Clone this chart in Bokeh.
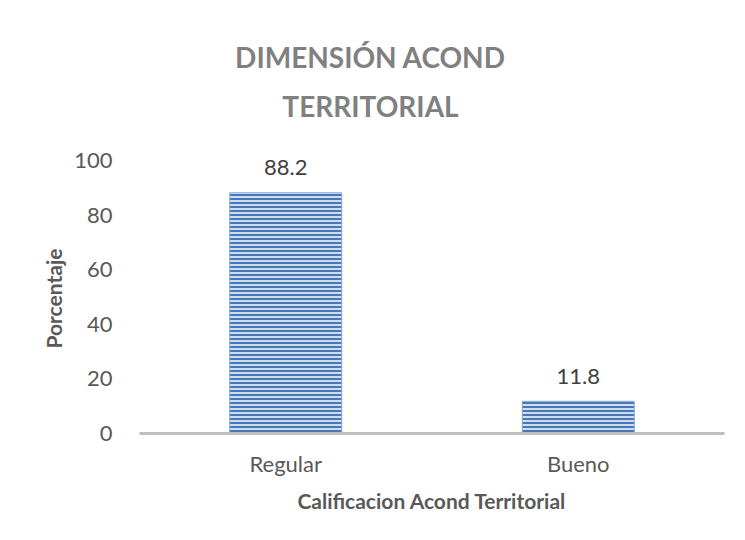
from bokeh.plotting import figure
from bokeh.models import ColumnDataSource, LabelSet, Label, FixedTicker, FactorRange, Range1d, Title
from bokeh.core.properties import value
from bokeh.embed import file_html
from bokeh.resources import INLINE

categories = ["Regular", "Bueno"]
values = [88.2, 11.8]
labels = ["88.2", "11.8"]
y_ticks = [0, 20, 40, 60, 80, 100]
title_lines = ["DIMENSIÓN ACOND", "TERRITORIAL"]
y_title = "Porcentaje"
x_title = "Calificacion Acond Territorial"

FONT = "Lato"
TXT = "#595959"

src = ColumnDataSource(dict(cat=categories, val=values, lab=labels))

# y range extends above 100 to leave room for the title inside the (invisible) frame
p = figure(width=737, height=515, x_range=FactorRange(*categories), y_range=Range1d(0, 151.3),
           output_backend="svg", toolbar_location=None,
           min_border_left=139, min_border_right=13, min_border_top=20, min_border_bottom=10)
p.x_range.range_padding = 0
p.outline_line_color = None
p.grid.grid_line_color = None
p.background_fill_color = "white"
p.border_fill_color = "white"

p.vbar(x="cat", top="val", width=0.383, source=src,
       fill_color="#d0def0", line_color="#86a9d6", line_width=1,
       hatch_pattern="horizontal_line", hatch_color="#4677b8",
       hatch_scale=4, hatch_weight=2)

lbl = LabelSet(x="cat", y="val", text="lab", source=src, y_offset=25,
               text_align="center", text_baseline="middle",
               text_font=value(FONT), text_font_size=value("22px"), text_color="#404040")
p.add_layout(lbl)

# y axis
p.yaxis.ticker = FixedTicker(ticks=y_ticks)
p.yaxis.axis_line_color = None
p.yaxis.major_tick_line_color = None
p.yaxis.minor_tick_line_color = None
p.yaxis.major_label_text_font = FONT
p.yaxis.major_label_text_font_size = "22px"
p.yaxis.major_label_text_color = TXT
p.yaxis.major_label_standoff = 21

# y axis title, centred on the 0-100 part of the axis
p.add_layout(Title(text=y_title, align="left", offset=85, standoff=12,
                   text_font=FONT, text_font_size="21px", text_font_style="bold",
                   text_color=TXT), "left")

# x axis
p.xaxis.axis_line_color = "#bfbfbf"
p.xaxis.axis_line_width = 3
p.xaxis.major_tick_line_color = None
p.xaxis.minor_tick_line_color = None
p.xaxis.major_label_text_font = FONT
p.xaxis.major_label_text_font_size = "22px"
p.xaxis.major_label_text_color = TXT
p.xaxis.major_label_standoff = 10
p.xaxis.axis_label = x_title
p.xaxis.axis_label_text_font = FONT
p.xaxis.axis_label_text_font_size = "21px"
p.xaxis.axis_label_text_font_style = "bold"
p.xaxis.axis_label_text_color = TXT
p.xaxis.axis_label_standoff = 8

# two-line chart title (screen units relative to the plot frame)
for line, y_up in zip(title_lines, [377, 328]):
    p.add_layout(Label(x=231, y=y_up, x_units="screen", y_units="screen", text=line,
                       text_align="center", text_baseline="middle",
                       text_font=FONT, text_font_size="28px", text_font_style="bold",
                       text_color="#808080"))

open("out.html", "w").write(file_html(p, INLINE))
